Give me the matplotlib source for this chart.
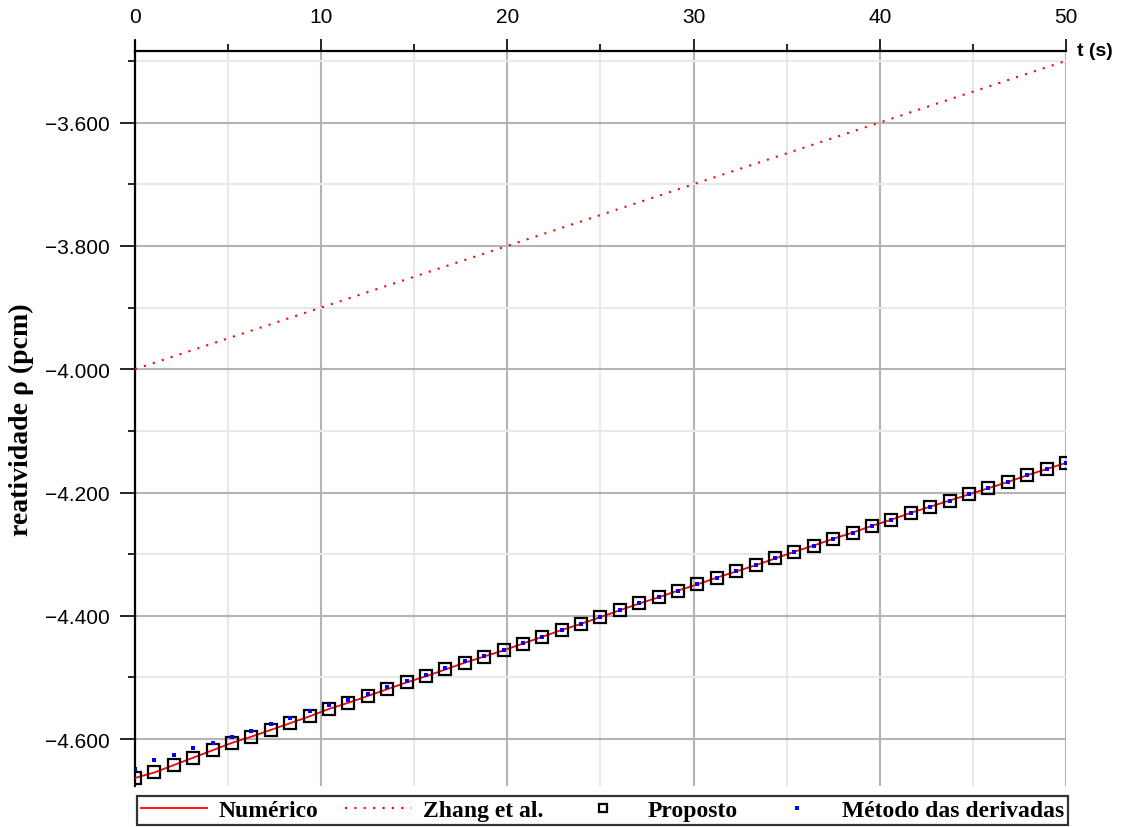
import numpy as np
import matplotlib
matplotlib.use("Agg")
import matplotlib.pyplot as plt
from matplotlib.ticker import MultipleLocator, FuncFormatter

# time grid of the computed points (49 samples from 0 to 50 s)
t = np.linspace(0, 50, 49)

numerico = [-4663, -4654, -4642, -4630, -4618, -4606, -4596, -4585, -4574, -4563,
            -4551, -4541, -4530, -4519, -4508, -4498, -4487, -4476, -4466, -4456,
            -4445, -4434, -4423, -4413, -4402, -4391, -4380, -4370, -4359, -4349,
            -4338, -4328, -4318, -4307, -4296, -4286, -4275, -4265, -4254, -4244,
            -4233, -4223, -4213, -4203, -4193, -4183, -4172, -4162, -4152]

proposto = list(numerico)

metodo = [-4648, -4634, -4625, -4615, -4606, -4596, -4587, -4576, -4565, -4555,
          -4545, -4536, -4526, -4516, -4505, -4496, -4485, -4474, -4465, -4455,
          -4444, -4434, -4423, -4413, -4402, -4391, -4380, -4370, -4359, -4349,
          -4338, -4328, -4318, -4307, -4296, -4286, -4275, -4265, -4254, -4244,
          -4233, -4223, -4213, -4203, -4193, -4183, -4172, -4162, -4152]

t_zhang = [0, 10, 20, 30, 40, 50]
zhang = [-4000, -3900, -3800, -3700, -3600, -3500]

y_top = -3484
y_bot = -4676

fig = plt.figure(figsize=(11.28, 8.28), dpi=100)
ax = fig.add_axes([0.1197, 0.0495, 0.8253, 0.8877])

ax.plot(t, numerico, color="#ff0000", lw=1.3, label="Numérico", zorder=3)
ax.plot(t_zhang, zhang, color="#ff0000", lw=1.5, ls=(0, (1, 3.5)),
        label="Zhang et al.", zorder=3)
ax.plot(t, proposto, ls="none", marker="s", ms=8.5, mfc="none", mec="black",
        mew=1.6, label="Proposto", zorder=4)
ax.plot(t, metodo, ls="none", marker="s", ms=3.5, color="#0000ff", mew=0,
        label="Método das derivadas", zorder=5)

ax.set_xlim(0, 50)
ax.set_ylim(y_bot, y_top)

ax.xaxis.set_major_locator(MultipleLocator(10))
ax.xaxis.set_minor_locator(MultipleLocator(5))
ax.yaxis.set_major_locator(MultipleLocator(200))
ax.yaxis.set_minor_locator(MultipleLocator(100))

def fmt(v, pos):
    return f"{v:,.0f}".replace(",", ".").replace("-", "\u2212")

ax.yaxis.set_major_formatter(FuncFormatter(fmt))

ax.grid(which="major", color="#b4b4b4", lw=1.5, zorder=0)
ax.grid(which="minor", color="#e8e8e8", lw=1.5, zorder=0)
ax.set_axisbelow(True)

ax.spines["right"].set_visible(False)
ax.spines["bottom"].set_visible(False)
ax.spines["top"].set_linewidth(1.6)
ax.spines["left"].set_linewidth(1.6)

ax.xaxis.set_ticks_position("top")
ax.tick_params(axis="x", which="major", direction="out", length=9, width=1.2,
               pad=9, labelsize=15)
ax.tick_params(axis="x", which="minor", direction="out", length=5, width=1.2)
ax.tick_params(axis="y", which="major", direction="out", length=11, width=1.2,
               pad=7, labelsize=15)
ax.tick_params(axis="y", which="minor", direction="out", length=5, width=1.2)
for lab in ax.get_xticklabels() + ax.get_yticklabels():
    lab.set_fontfamily("Liberation Sans")

# y axis continues a bit above the t axis
ax.plot([0, 0], [y_top, -3467], color="black", lw=1.6, clip_on=False, zorder=6)

ax.text(1.012, 1.0, "t (s)", transform=ax.transAxes, ha="left", va="center",
        fontsize=14, fontweight="bold", fontfamily="Liberation Sans")

ax.set_ylabel("reatividade ρ (pcm)", fontsize=20, fontweight="bold",
              fontfamily="Liberation Serif", labelpad=8)

leg = fig.legend(loc="lower left", bbox_to_anchor=(0.1215, 0.003, 0.8254, 0.043),
                 mode="expand", ncol=4, frameon=True, fancybox=False,
                 edgecolor="black", handlelength=2.8, markerscale=0.75,
                 borderaxespad=0, borderpad=0.15, handletextpad=0.5,
                 prop={"family": "Liberation Serif", "weight": "bold", "size": 17})
leg.get_frame().set_linewidth(1.6)

fig.savefig("out.png", dpi=100)
